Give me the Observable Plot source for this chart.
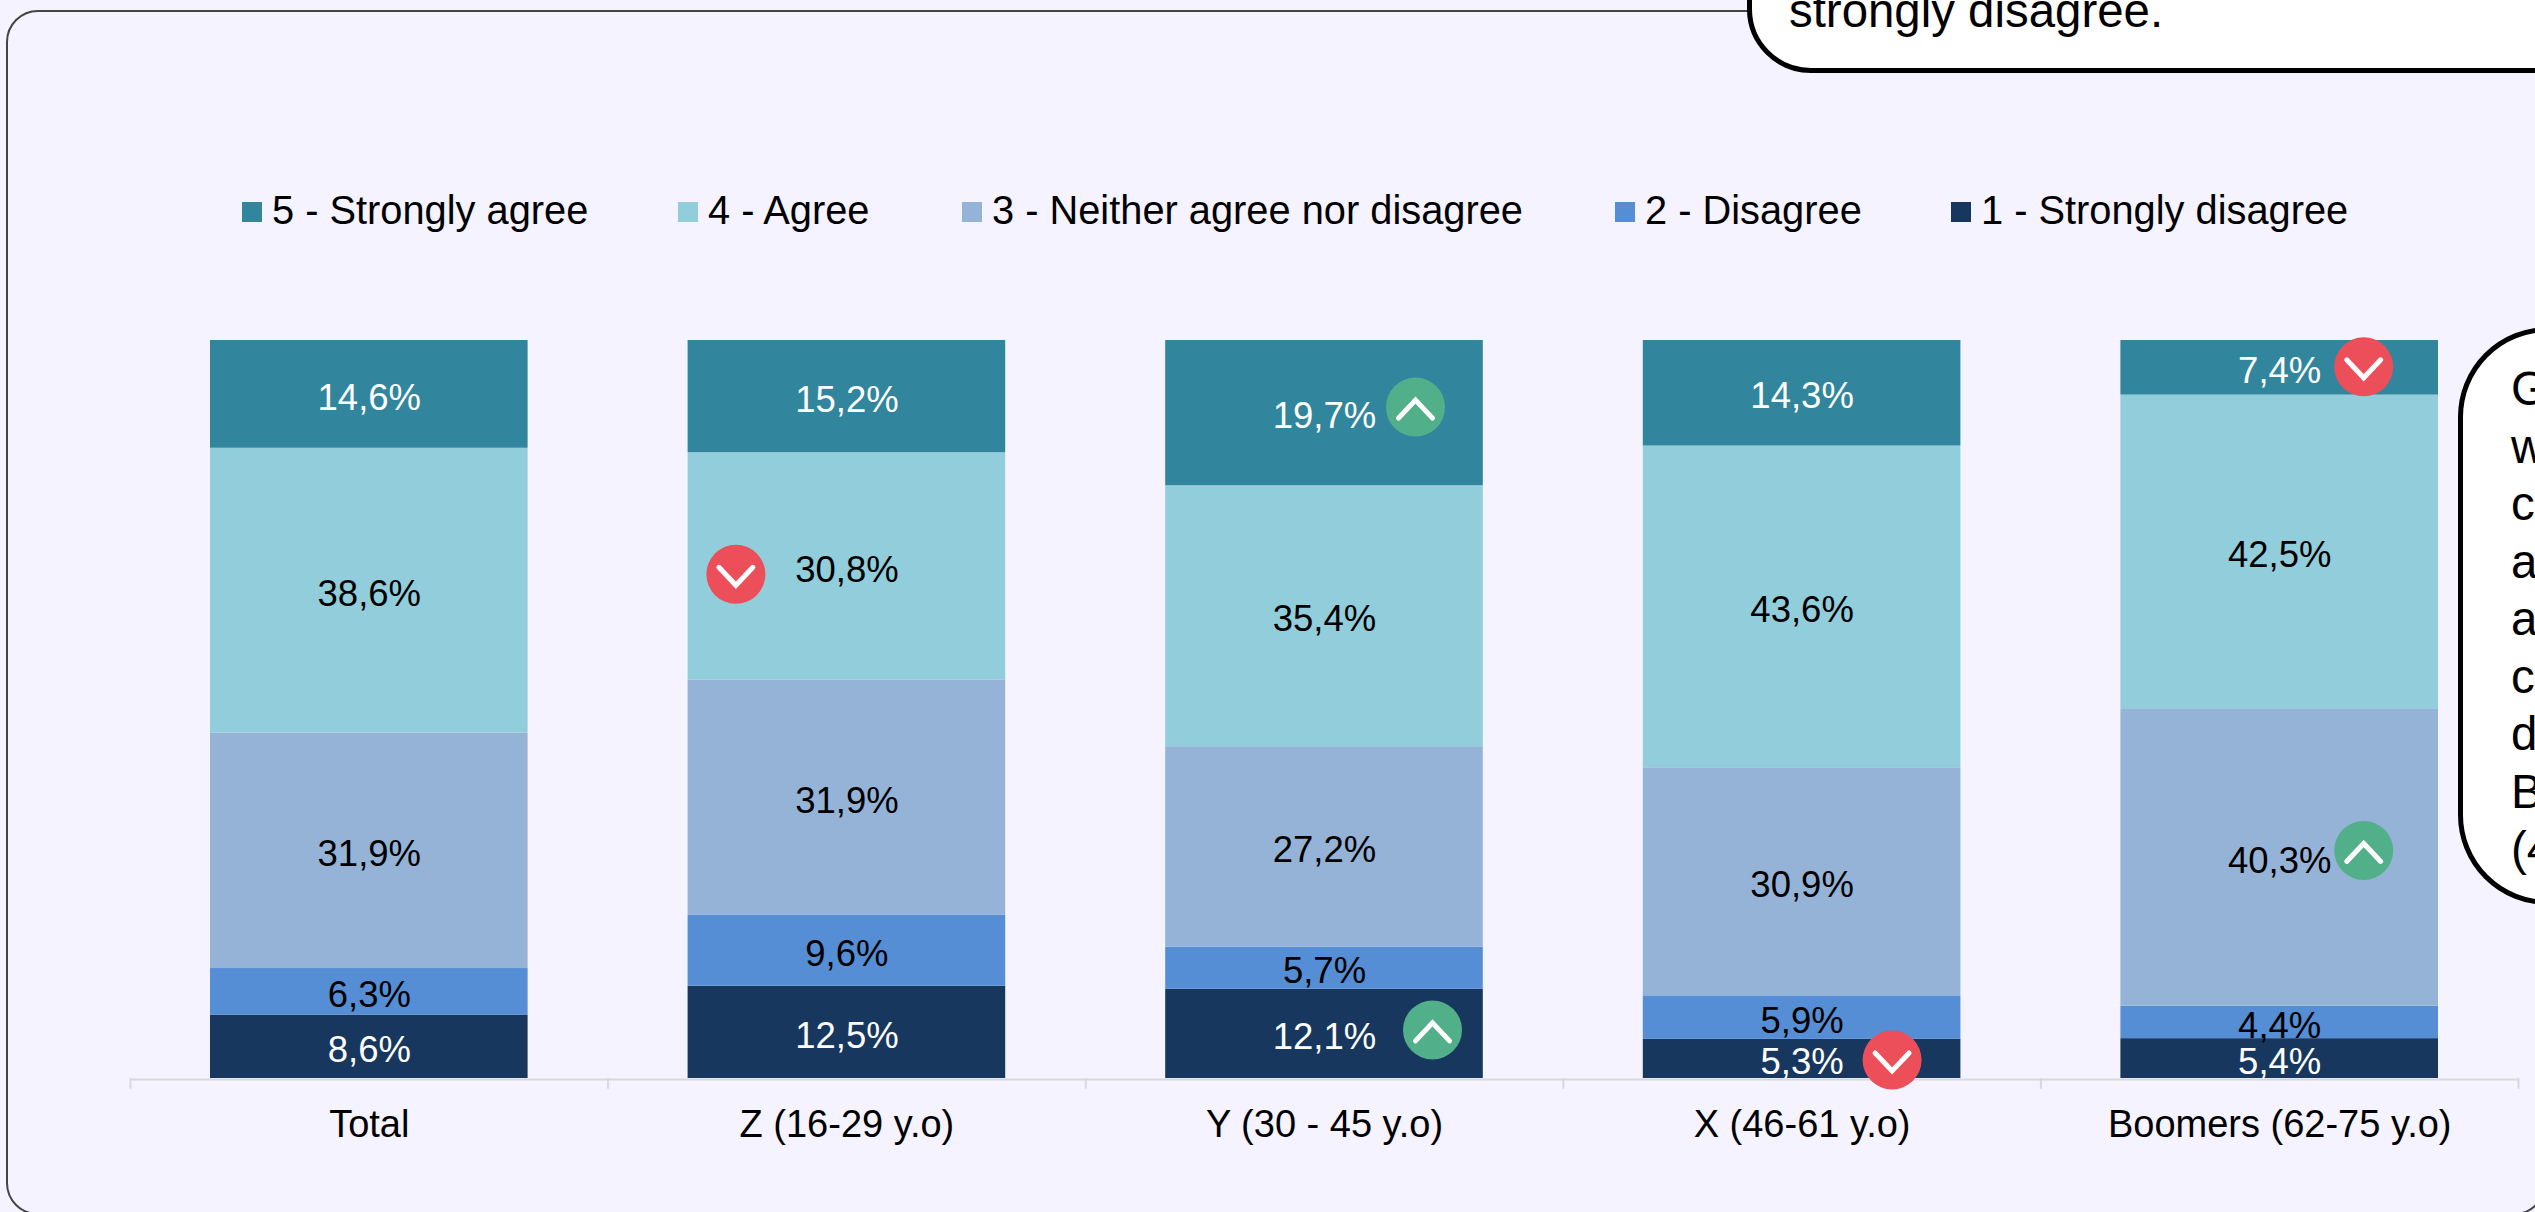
<!DOCTYPE html>
<html>
<head>
<meta charset="utf-8">
<script src="https://cdn.jsdelivr.net/npm/d3@7"></script>
<script src="https://cdn.jsdelivr.net/npm/@observablehq/plot@0.6"></script>
<style>
html,body{margin:0;padding:0;width:2535px;height:1212px;overflow:hidden;background:#F5F3FF;font-family:"Liberation Sans",Arial,sans-serif;color:#000}
#stage{position:relative;width:2535px;height:1212px;overflow:hidden}
#panel{position:absolute;left:6px;top:10px;width:2540px;height:1205px;box-sizing:border-box;border:2px solid #444;border-radius:32px}
#chart{position:absolute;left:0;top:0}
.lg{position:absolute;top:190px;height:40px;font-size:39.8px;line-height:40px;white-space:nowrap}
.sw{position:absolute;top:202px;width:20px;height:20px}
.call{position:absolute;box-sizing:border-box;background:#fff;border:5px solid #000;font-size:47.4px;line-height:58px;white-space:pre}
</style>
</head>
<body>
<div id="stage">
<div id="panel"></div>
<div id="chart"></div>
<div id="legend"></div>
<div class="call" style="left:1747px;top:-200px;width:900px;height:273px;border-radius:64px;"><div style="position:absolute;left:37px;bottom:28px">strongly disagree.</div></div>
<div class="call" id="side" style="left:2458px;top:327px;width:300px;height:578px;border-radius:90px;"></div>
</div>
<script>
const groups = ["Total", "Z (16-29 y.o)", "Y (30 - 45 y.o)", "X (46-61 y.o)", "Boomers (62-75 y.o)"];
const answers = ["1 - Strongly disagree", "2 - Disagree", "3 - Neither agree nor disagree", "4 - Agree", "5 - Strongly agree"];
const colors = ["#17375E", "#558ED5", "#95B3D7", "#92CDDC", "#31859C"];
const labelColors = ["#fff", "#000", "#000", "#000", "#fff"];
const stronglyDisagree = [8.6, 12.5, 12.1, 5.3, 5.4];
const disagree = [6.3, 9.6, 5.7, 5.9, 4.4];
const neither = [31.9, 31.9, 27.2, 30.9, 40.3];
const agree = [38.6, 30.8, 35.4, 43.6, 42.5];
const stronglyAgree = [14.6, 15.2, 19.7, 14.3, 7.4];
const seriesValues = [stronglyDisagree, disagree, neither, agree, stronglyAgree];
const legendOrder = [4, 3, 2, 1, 0];
const sideLines = ["G", "w", "c", "a", "a", "c", "d", "B", "(4"];

// significance flags: group, answer index, direction
const flagGroups = ["Z (16-29 y.o)", "Y (30 - 45 y.o)", "Y (30 - 45 y.o)", "X (46-61 y.o)", "Boomers (62-75 y.o)", "Boomers (62-75 y.o)"];
const flagAnswers = [3, 4, 0, 0, 4, 2];
const flagDirections = ["down", "up", "up", "down", "down", "up"];

const table = answers.flatMap((answer, a) => groups.map((group, g) => ({group, answer, a, value: seriesValues[a][g]})));
const fmt = v => v.toFixed(1).replace(".", ",") + "%";
const stackOpts = {x: "group", y: "value", z: "answer", offset: "normalize"};

// badge placement relative to the centre of its segment
const flagOffsets = [[-111, 8], [91, -6], [108, -4], [90, 1], [84, -1], [84, -7]];
const midOf = (g, a) => {
  const i = groups.indexOf(g);
  let t = 0; for (let k = 0; k < a; k++) t += seriesValues[k][i];
  const sum = seriesValues.reduce((s, v) => s + v[i], 0);
  return (t + seriesValues[a][i] / 2) / sum;
};
const chevron = up => ({draw(c) {
  const w = 17, h = up ? -9 : 9;
  c.moveTo(-w, -h + 2); c.lineTo(0, h + 2); c.lineTo(w, -h + 2);
}});
const flagMarks = flagGroups.flatMap((g, i) => {
  const row = [{group: g, mid: midOf(g, flagAnswers[i])}];
  const [dx, dy] = flagOffsets[i];
  const up = flagDirections[i] === "up";
  return [
    Plot.dot(row, {x: "group", y: "mid", dx, dy, r: 29.5, fill: up ? "#51B08A" : "#EC4F5A", stroke: "none"}),
    Plot.dot(row, {x: "group", y: "mid", dx, dy, r: 10, symbol: chevron(up), fill: "none", stroke: "#fff", strokeWidth: 5, strokeLinecap: "round", strokeLinejoin: "miter"})
  ];
});

const step = (2518 - 130) / groups.length;
const plot = Plot.plot({
  width: 2535, height: 1212,
  marginLeft: 130, marginRight: 17, marginTop: 340, marginBottom: 134,
  style: {background: "transparent", fontFamily: "'Liberation Sans', Arial, sans-serif", fontSize: "36.5px"},
  x: {domain: groups, paddingInner: 0.335, paddingOuter: 0.1675, round: false, label: null},
  y: {domain: [0, 1], axis: null},
  color: {domain: answers, range: colors},
  marks: [
    Plot.barY(table, Plot.stackY({...stackOpts, fill: "answer"})),
    Plot.text(table, Plot.stackY({...stackOpts, text: d => fmt(d.value), fill: {value: d => labelColors[d.a], scale: null}, dy: 3.5})),
    Plot.ruleY([0], {stroke: "#D9D9D9", strokeWidth: 2, dy: 1}),
    Plot.ruleX(groups, {x: d => d, y1: 0, y2: -0.0145, dx: -step / 2, stroke: "#D9D9D9", strokeWidth: 2}),
    Plot.ruleX(groups.slice(-1), {x: d => d, y1: 0, y2: -0.0145, dx: step / 2, stroke: "#D9D9D9", strokeWidth: 2}),
    Plot.axisX({tickSize: 0, tickPadding: 32, label: null, fill: "#000", fontSize: 38, lineAnchor: "top"}),
    ...flagMarks
  ]
});
document.getElementById("chart").appendChild(plot);

const legendSwatchX = {4: 242, 3: 678, 2: 962, 1: 1615, 0: 1951};
const legend = document.getElementById("legend");
legendOrder.forEach(a => {
  const s = document.createElement("div"); s.className = "sw";
  s.style.left = legendSwatchX[a] + "px"; s.style.background = colors[a];
  const t = document.createElement("div"); t.className = "lg";
  t.style.left = (legendSwatchX[a] + 30) + "px"; t.textContent = answers[a];
  legend.append(s, t);
});
const side = document.getElementById("side");
sideLines.forEach((l, i) => {
  const d = document.createElement("div");
  d.style.cssText = `position:absolute;left:48px;top:${28 + i * 57.5}px`;
  d.textContent = l; side.appendChild(d);
});
</script>
</body>
</html>
